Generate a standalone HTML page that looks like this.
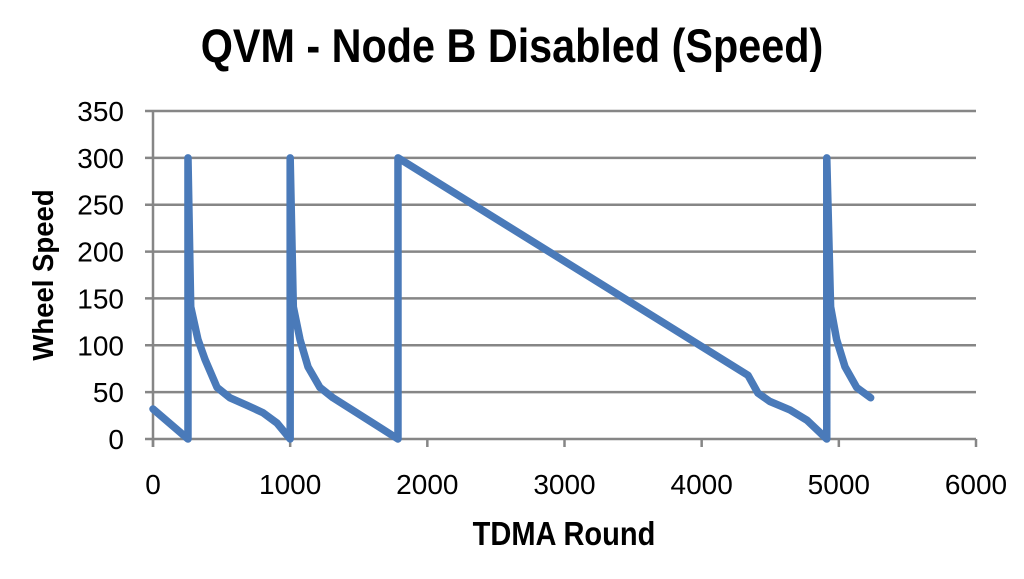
<!DOCTYPE html>
<html><head><meta charset="utf-8"><style>
body{margin:0;background:#fff;width:1024px;height:574px;overflow:hidden}
svg text{font-family:"Liberation Sans",sans-serif}
</style></head><body>
<svg width="1024" height="574">
<text x="512" y="62" text-anchor="middle" font-size="47" font-weight="bold" transform="translate(512 0) scale(0.88 1) translate(-512 0)">QVM - Node B Disabled (Speed)</text>
<g id="grid"></g>
<g id="ticks"></g>
<polyline id="line" fill="none" stroke="#4a7ab9" stroke-width="7.5" stroke-linejoin="round" stroke-linecap="round"/>
<text x="564" y="545" text-anchor="middle" font-size="33" font-weight="bold" transform="translate(564 0) scale(0.88 1) translate(-564 0)">TDMA Round</text>
<text transform="translate(53 275) scale(1 0.95) rotate(-90)" text-anchor="middle" font-size="29" font-weight="bold">Wheel Speed</text>
</svg>
<script>
const xTicks=[0,1000,2000,3000,4000,5000,6000];
const yTicks=[0,50,100,150,200,250,300,350];
const rounds=[0,255,255,275,328,379,467,561,685,802,904,1000,1000,1023,1072,1130,1217,1312,1786,1786,4338,4410,4498,4644,4768,4912,4912,4940,4984,5045,5130,5232];
const speeds=[32,0,300,141,106,85,55,44,36,28,17,0,300,141,106,77,55,44,0,300,68,49,40,31,20,0,300,141,106,77,55,44];
const X0=153,X1=976,Y0=439,Y1=111;
const xs=v=>X0+(v-0)/(6000)*(X1-X0);
const ys=v=>Y0-(v/350)*(Y0-Y1);
const NS="http://www.w3.org/2000/svg";
const grid=document.getElementById('grid'),ticks=document.getElementById('ticks');
function mk(tag,attrs,parent){const e=document.createElementNS(NS,tag);for(const k in attrs)e.setAttribute(k,attrs[k]);parent.appendChild(e);return e;}
yTicks.forEach(v=>{
  const l=mk('line',{x1:X0-8,x2:X1,y1:ys(v),y2:ys(v),stroke:'#868686','stroke-width':2.5},grid);
  
  
  const t=mk('text',{x:124,y:ys(v)+10,'text-anchor':'end','font-size':28},ticks);
  
  
  t.textContent=v;
});
const ax=mk('line',{x1:X0,x2:X0,y1:Y1,y2:Y0+8,stroke:'#868686','stroke-width':2.5},grid);


xTicks.forEach(v=>{
  const l=mk('line',{x1:xs(v),x2:xs(v),y1:Y0,y2:Y0+8,stroke:'#868686','stroke-width':2.5},grid);
  
  
  const t=mk('text',{x:xs(v),y:494,'text-anchor':'middle','font-size':28},ticks);
  
  
  t.textContent=v;
});
document.getElementById('line').setAttribute('points',rounds.map((r,i)=>xs(r)+','+ys(speeds[i])).join(' '));
</script>
</body></html>
